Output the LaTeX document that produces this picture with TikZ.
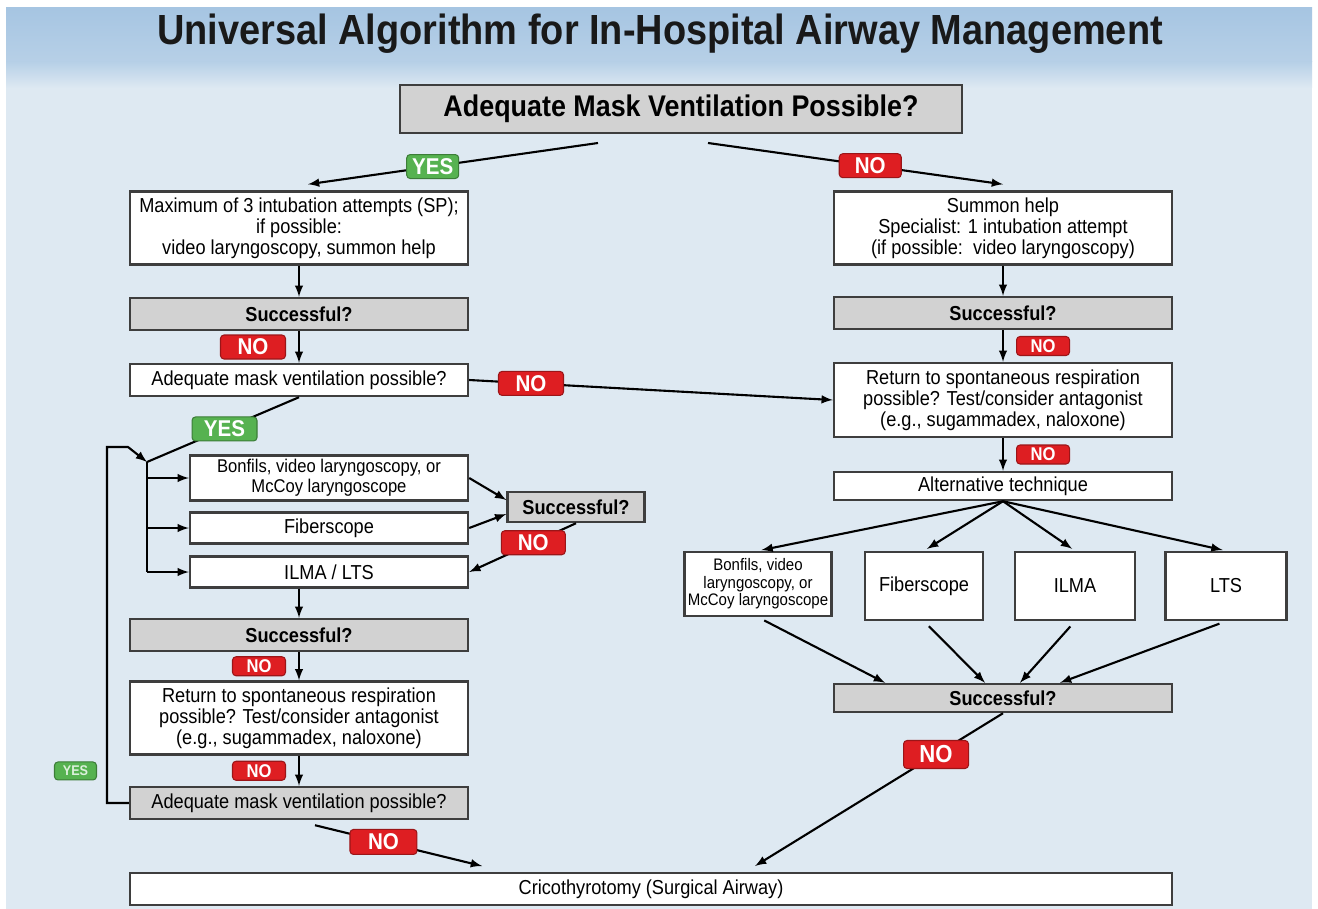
\documentclass[tikz,border=0pt]{standalone}
\usepackage{fontspec}
\setmainfont[FakeStretch=0.9]{Liberation Sans}
\usetikzlibrary{positioning}
\definecolor{bgblue}{RGB}{222,233,242}
\definecolor{bandblue}{RGB}{166,197,226}
\definecolor{tagred}{RGB}{222,30,34}
\definecolor{taggreen}{RGB}{86,178,80}
\definecolor{boxline}{RGB}{62,62,62}
\definecolor{qgray}{RGB}{210,210,210}
\newcommand{\bodyfont}{\fontsize{11.5}{12}\selectfont}

\begin{document}
\begin{tikzpicture}[x=0.02cm, y=-0.02cm, >=latex, line width=1.2pt,
    box/.style={draw=boxline, line width=1.4pt, fill=white, align=center, inner sep=0pt,
      minimum width=6.76cm, font=\bodyfont},
    qbox/.style={box, fill=qgray, font=\bodyfont\bfseries, minimum height=0.64cm},
    yestag/.style={fill=taggreen, draw=taggreen!70!black, line width=0.6pt, rounded corners=2pt,
      text=white, inner sep=0pt, minimum width=1.04cm, minimum height=0.48cm,
      font=\fontsize{13}{13}\selectfont\bfseries},
    notag/.style={yestag, fill=tagred, draw=tagred!70!black},
    smalltag/.style={minimum width=1.06cm, minimum height=0.38cm, font=\fontsize{10.5}{10.5}\selectfont\bfseries}]
        % background and title band
        \fill[white] (0,0) rectangle (1318,909);
        \fill[bgblue] (6,8) rectangle (1312,909);
        \shade[top color=bandblue, bottom color=bandblue!70!bgblue] (6,8) rectangle (1312,62);
        \shade[top color=bandblue!70!bgblue, bottom color=bgblue] (6,62) rectangle (1312,88);
        \node[font=\fontsize{24}{24}\selectfont\bfseries, text=black!90] (t) at (660,34)
          {Universal Algorithm for In-Hospital Airway Management};

        \node[box, fill=qgray, minimum width=11.24cm, minimum height=0.96cm,
          font=\fontsize{17}{17}\selectfont\bfseries] (0) at (681,109) {Adequate Mask Ventilation Possible?};

        % left column
        \node[box, minimum height=1.46cm] (1) at (299,228)
          {Maximum of 3 intubation attempts (SP);\\ if possible:\\ video laryngoscopy, summon help};
        \node[qbox] (2) at (299,314) {Successful?};
        \node[box, minimum height=0.64cm] (3) at (299,380) {Adequate mask ventilation possible?};
        \node[box, minimum width=5.56cm, minimum height=0.9cm, font=\fontsize{10.5}{11.5}\selectfont] (4) at (329,478)
          {Bonfils, video laryngoscopy, or\\ McCoy laryngoscope};
        \node[box, minimum width=5.56cm, minimum height=0.62cm] (5) at (329,528) {Fiberscope};
        \node[box, minimum width=5.56cm, minimum height=0.62cm] (6) at (329,572) {ILMA / LTS};
        \node[qbox, minimum width=2.74cm, minimum height=0.6cm] (7) at (576,507) {Successful?};
        \node[qbox] (8) at (299,635) {Successful?};
        \node[box, minimum height=1.46cm] (9) at (299,718)
          {Return to spontaneous respiration\\ possible? Test/consider antagonist\\ (e.g., sugammadex, naloxone)};
        \node[box, fill=qgray, minimum height=0.64cm] (10) at (299,803) {Adequate mask ventilation possible?};
        \node[box, minimum width=20.84cm, minimum height=0.64cm] (11) at (651,889) {Cricothyrotomy (Surgical Airway)};

        % right column
        \node[box, minimum height=1.46cm] (12) at (1003,228)
          {Summon help\\ Specialist: 1 intubation attempt\\ (if possible:\ \ video laryngoscopy)};
        \node[qbox] (13) at (1003,313) {Successful?};
        \node[box, minimum height=1.48cm] (14) at (1003,400)
          {Return to spontaneous respiration\\ possible? Test/consider antagonist\\ (e.g., sugammadex, naloxone)};
        \node[box, minimum height=0.56cm] (15) at (1003,486) {Alternative technique};
        \node[box, minimum width=2.94cm, minimum height=1.28cm, font=\fontsize{9.5}{10}\selectfont] (16) at (758,584)
          {Bonfils, video\\ laryngoscopy, or\\ McCoy laryngoscope};
        \node[box, minimum width=2.36cm, minimum height=1.36cm] (17) at (924,586) {Fiberscope};
        \node[box, minimum width=2.4cm, minimum height=1.36cm] (18) at (1075,586) {ILMA};
        \node[box, minimum width=2.42cm, minimum height=1.36cm] (19) at (1226,586) {LTS};
        \node[qbox, minimum height=0.56cm] (20) at (1003,698) {Successful?};

        \coordinate (c1) at (598,143);
        \coordinate (c2) at (708,143);
        \coordinate (c3) at (147,462);
        \coordinate (c4) at (107,447);
        \coordinate (c5) at (128,447);
        \coordinate (c7) at (482,866);
        \coordinate (c8) at (755,866);

        \draw[->] (c1) -- node[yestag, pos=0.57] (y1) {YES} ([xshift=0.18cm, yshift=0.12cm]1.north);
        \draw[->] (c2) -- node[notag, pos=0.55, minimum width=1.24cm] (n1) {NO} ([yshift=0.12cm]12.north);
        \draw[->] (1) -- (2);
        \draw[->] (2) -- node[notag, left=0.26cm, minimum width=1.3cm] (n2) {NO} (3);
        \draw[->] (3.east) -- node[notag, pos=0.17, minimum width=1.3cm] (n3) {NO} (14.west);
        \draw (3.south) -- node[yestag, pos=0.49, minimum width=1.3cm] (y2) {YES} (c3);
        \draw (c3) -- (c3 |- 6);
        \foreach \n in {4,5,6}
          \draw[->] (c3 |- \n) -- (\n);
        \draw[->] (10.west) -| node[yestag, smalltag, pos=0.545, left=0.2cm, minimum width=0.84cm, minimum height=0.36cm,
          text=white!80!taggreen, font=\fontsize{8}{8}\selectfont\bfseries] (y3) {YES} (c4) -- (c5) -- (c3);
        \draw[->] (4.east) -- ([yshift=0.14cm]7.west);
        \draw[->] (5.east) -- ([yshift=-0.14cm]7.west);
        \draw[->] (7.south) -- node[notag, pos=0.4, minimum width=1.28cm] (n4) {NO} (6.east);
        \draw[->] (6.south -| 8) -- (8);
        \draw[->] (8) -- node[notag, smalltag, left=0.26cm] (n5) {NO} (9);
        \draw[->] (9) -- node[notag, smalltag, left=0.26cm] (n6) {NO} (10);
        \draw[->] ([xshift=0.32cm, yshift=-0.1cm]10.south) -- node[notag, pos=0.41, minimum width=1.34cm, minimum height=0.5cm] (n7) {NO} (c7);

        \draw[->] (12) -- (13);
        \draw[->] (13) -- node[notag, smalltag, right=0.26cm] (n8) {NO} (14);
        \draw[->] (14) -- node[notag, smalltag, right=0.26cm] (n9) {NO} (15);
        \foreach \n in {16,...,19}
          \draw[->, shorten >=2pt] (15.south) -- (\n.north);
        \draw[->, shorten <=4pt] (16.south) -- ([xshift=-2.36cm]20.north);
        \draw[->, shorten <=4pt] (17.south) -- ([xshift=-0.36cm]20.north);
        \draw[->, shorten <=4pt] (18.south) -- ([xshift=0.34cm]20.north);
        \draw[->, shorten <=4pt] (19.south) -- ([xshift=1.14cm]20.north);
        \draw[->] (20.south) -- node[notag, pos=0.27, minimum width=1.3cm, minimum height=0.56cm,
          font=\fontsize{14}{14}\selectfont\bfseries] (n10) {NO} (c8);
\end{tikzpicture}
\end{document}
